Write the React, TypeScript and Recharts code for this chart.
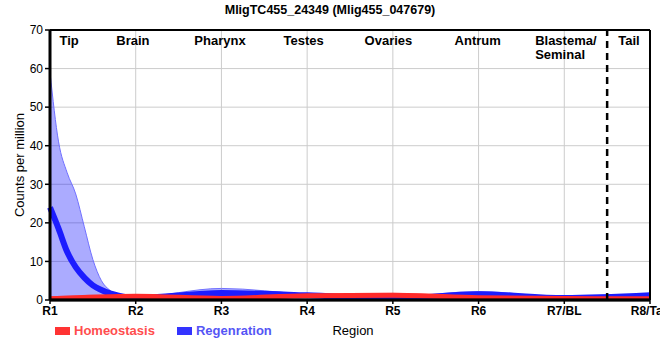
import React from 'react';
import {
  ComposedChart,
  Area,
  Line,
  Scatter,
  XAxis,
  YAxis,
  CartesianGrid,
  ReferenceLine,
} from 'recharts';

// x positions (1 = R1 ... 8 = R8); extra points near R1 for the steep drop
const xPositions = [1, 1.1, 1.2, 1.3, 1.4, 1.5, 1.6, 1.7, 1.8, 2, 3, 4, 5, 6, 7, 8];

// Regeneration: mean and band
const regenMean = [24, 18.5, 12.5, 8.5, 5.8, 3.8, 2.6, 1.7, 1.1, 0.5, 1.8, 1.2, 0.3, 1.5, 0.5, 1.2];
const regenHigh = [59, 41, 33, 27.5, 19, 10.5, 5, 2.5, 1.2, 0.8, 3.0, 1.5, 0.8, 2.2, 0.8, 1.6];
const regenLow = [-0.5, -0.5, -0.5, -0.5, -0.5, -0.5, -0.5, -0.5, -0.4, -0.3, 0.8, 0.8, -0.5, 0.8, 0.2, 0.5];

// Homeostasis: only at the region points
const homeoMean = [0.3, null, null, null, null, null, null, null, null, 1.0, 0.4, 1.1, 1.2, 0.6, 0.4, 0.3];
const homeoHigh = [1.0, null, null, null, null, null, null, null, null, 1.5, 1.0, 1.6, 1.9, 1.0, 0.8, 0.6];
const homeoLow = [-0.5, null, null, null, null, null, null, null, null, 0.4, -0.6, 0.6, 0.5, -0.2, -0.3, -0.8];

const regionTicks = [1, 2, 3, 4, 5, 6, 7, 8];
const regionLabels = ['R1', 'R2', 'R3', 'R4', 'R5', 'R6', 'R7/BL', 'R8/Tail'];
const yTicks = [0, 10, 20, 30, 40, 50, 60, 70];

const tissueNames = ['Tip', 'Brain', 'Pharynx', 'Testes', 'Ovaries', 'Antrum', 'Blastema/\nSeminal', 'Tail'];
const tissueX = [1.11, 1.774, 2.684, 3.725, 4.67, 5.72, 6.66, 7.63];

const data = xPositions.map((x, i) => ({
  x,
  regen: regenMean[i],
  regenBand: [regenLow[i], regenHigh[i]],
  homeo: homeoMean[i] == null ? undefined : homeoMean[i],
  homeoBand: homeoMean[i] == null ? undefined : [homeoLow[i], homeoHigh[i]],
}));

const tissueData = tissueNames.map((name, i) => ({ x: tissueX[i], y: 66.2, name }));

const FONT = '"Liberation Sans", Arial, sans-serif';

const TissueLabel = (props: any) => {
  const { cx, cy, payload } = props;
  const lines = String(payload.name).split('\n');
  return (
    <text x={cx} y={cy} fontSize={13} fontWeight="bold" fontFamily={FONT} fill="#000" textAnchor="start">
      {lines.map((l, i) => (
        <tspan key={i} x={cx} dy={i === 0 ? 0 : 14}>
          {l}
        </tspan>
      ))}
    </text>
  );
};

const YLabel = (props: any) => {
  const { viewBox } = props;
  const cy = viewBox.y + viewBox.height / 2;
  return (
    <text x={24} y={cy} transform={`rotate(-90 24 ${cy})`} textAnchor="middle" fontSize={13} fontFamily={FONT} fill="#000">
      Counts per million
    </text>
  );
};

const legendItems = [
  { name: 'Homeostasis', box: '#ff3333', text: '#ff4d4d' },
  { name: 'Regenration', box: '#3333ff', text: '#5555f5' },
];

export default function App() {
  return (
    <div style={{ position: 'absolute', left: 0, top: 0, width: 660, height: 360, background: '#fff', fontFamily: FONT }}>
      <div
        style={{
          position: 'absolute',
          top: 3,
          left: 0,
          width: 660,
          textAlign: 'center',
          fontSize: 12.5,
          fontWeight: 'bold',
          color: '#000',
        }}
      >
        MligTC455_24349 (Mlig455_047679)
      </div>
      <ComposedChart width={660} height={360} data={data} margin={{ top: 30, right: 10, bottom: 0, left: 0 }}>
        <CartesianGrid stroke="#cccccc" strokeWidth={1} />
        <XAxis
          dataKey="x"
          type="number"
          domain={[1, 8]}
          ticks={regionTicks}
          tickFormatter={(v: number) => regionLabels[v - 1]}
          height={60}
          interval={0}
          tick={{ fill: '#000', fontSize: 12, fontWeight: 'bold', fontFamily: FONT }}
          tickSize={4}
          tickLine={{ stroke: '#000', strokeWidth: 1.5 }}
          axisLine={{ stroke: '#000', strokeWidth: 3 }}
          label={{ value: 'Region', position: 'insideTop', offset: 26, fill: '#000', fontSize: 13, fontFamily: FONT, dx: 3 }}
        />
        <YAxis
          type="number"
          domain={[0, 70]}
          allowDataOverflow
          ticks={yTicks}
          width={50}
          interval={0}
          tick={{ fill: '#000', fontSize: 12, fontFamily: FONT }}
          tickSize={5}
          tickLine={{ stroke: '#000', strokeWidth: 1.5 }}
          axisLine={{ stroke: '#000', strokeWidth: 3 }}
          label={<YLabel />}
        />
        <Area
          dataKey="regenBand"
          type="monotone"
          fill="#0000ff"
          fillOpacity={0.33}
          stroke="#7070ff"
          strokeWidth={1}
          connectNulls
          isAnimationActive={false}
        />
        <Line
          dataKey="regen"
          type="monotone"
          stroke="#1c1cff"
          strokeWidth={6}
          dot={false}
          activeDot={false}
          connectNulls
          isAnimationActive={false}
        />
        <Area
          dataKey="homeoBand"
          type="monotone"
          fill="#ff0000"
          fillOpacity={0.35}
          stroke="none"
          connectNulls
          isAnimationActive={false}
        />
        <Line
          dataKey="homeo"
          type="monotone"
          stroke="#ff2a2a"
          strokeWidth={5}
          dot={false}
          activeDot={false}
          connectNulls
          isAnimationActive={false}
        />
        <ReferenceLine y={0} stroke="#000" strokeWidth={2.5} />
        <ReferenceLine y={70} stroke="#000" strokeWidth={2} />
        <ReferenceLine x={8} stroke="#000" strokeWidth={2} />
        <ReferenceLine x={7.5} stroke="#000" strokeWidth={2.5} strokeDasharray="7 5" />
        <Scatter data={tissueData} dataKey="y" shape={<TissueLabel />} isAnimationActive={false} />
      </ComposedChart>
      <div
        style={{
          position: 'absolute',
          left: 55,
          top: 323,
          display: 'flex',
          fontSize: 13,
          fontWeight: 'bold',
          lineHeight: '16px',
        }}
      >
        {legendItems.map((it) => (
          <div key={it.name} style={{ display: 'flex', alignItems: 'center', marginRight: 22 }}>
            <span style={{ display: 'inline-block', width: 15, height: 8, background: it.box, marginRight: 4 }} />
            <span style={{ color: it.text }}>{it.name}</span>
          </div>
        ))}
      </div>
    </div>
  );
}
